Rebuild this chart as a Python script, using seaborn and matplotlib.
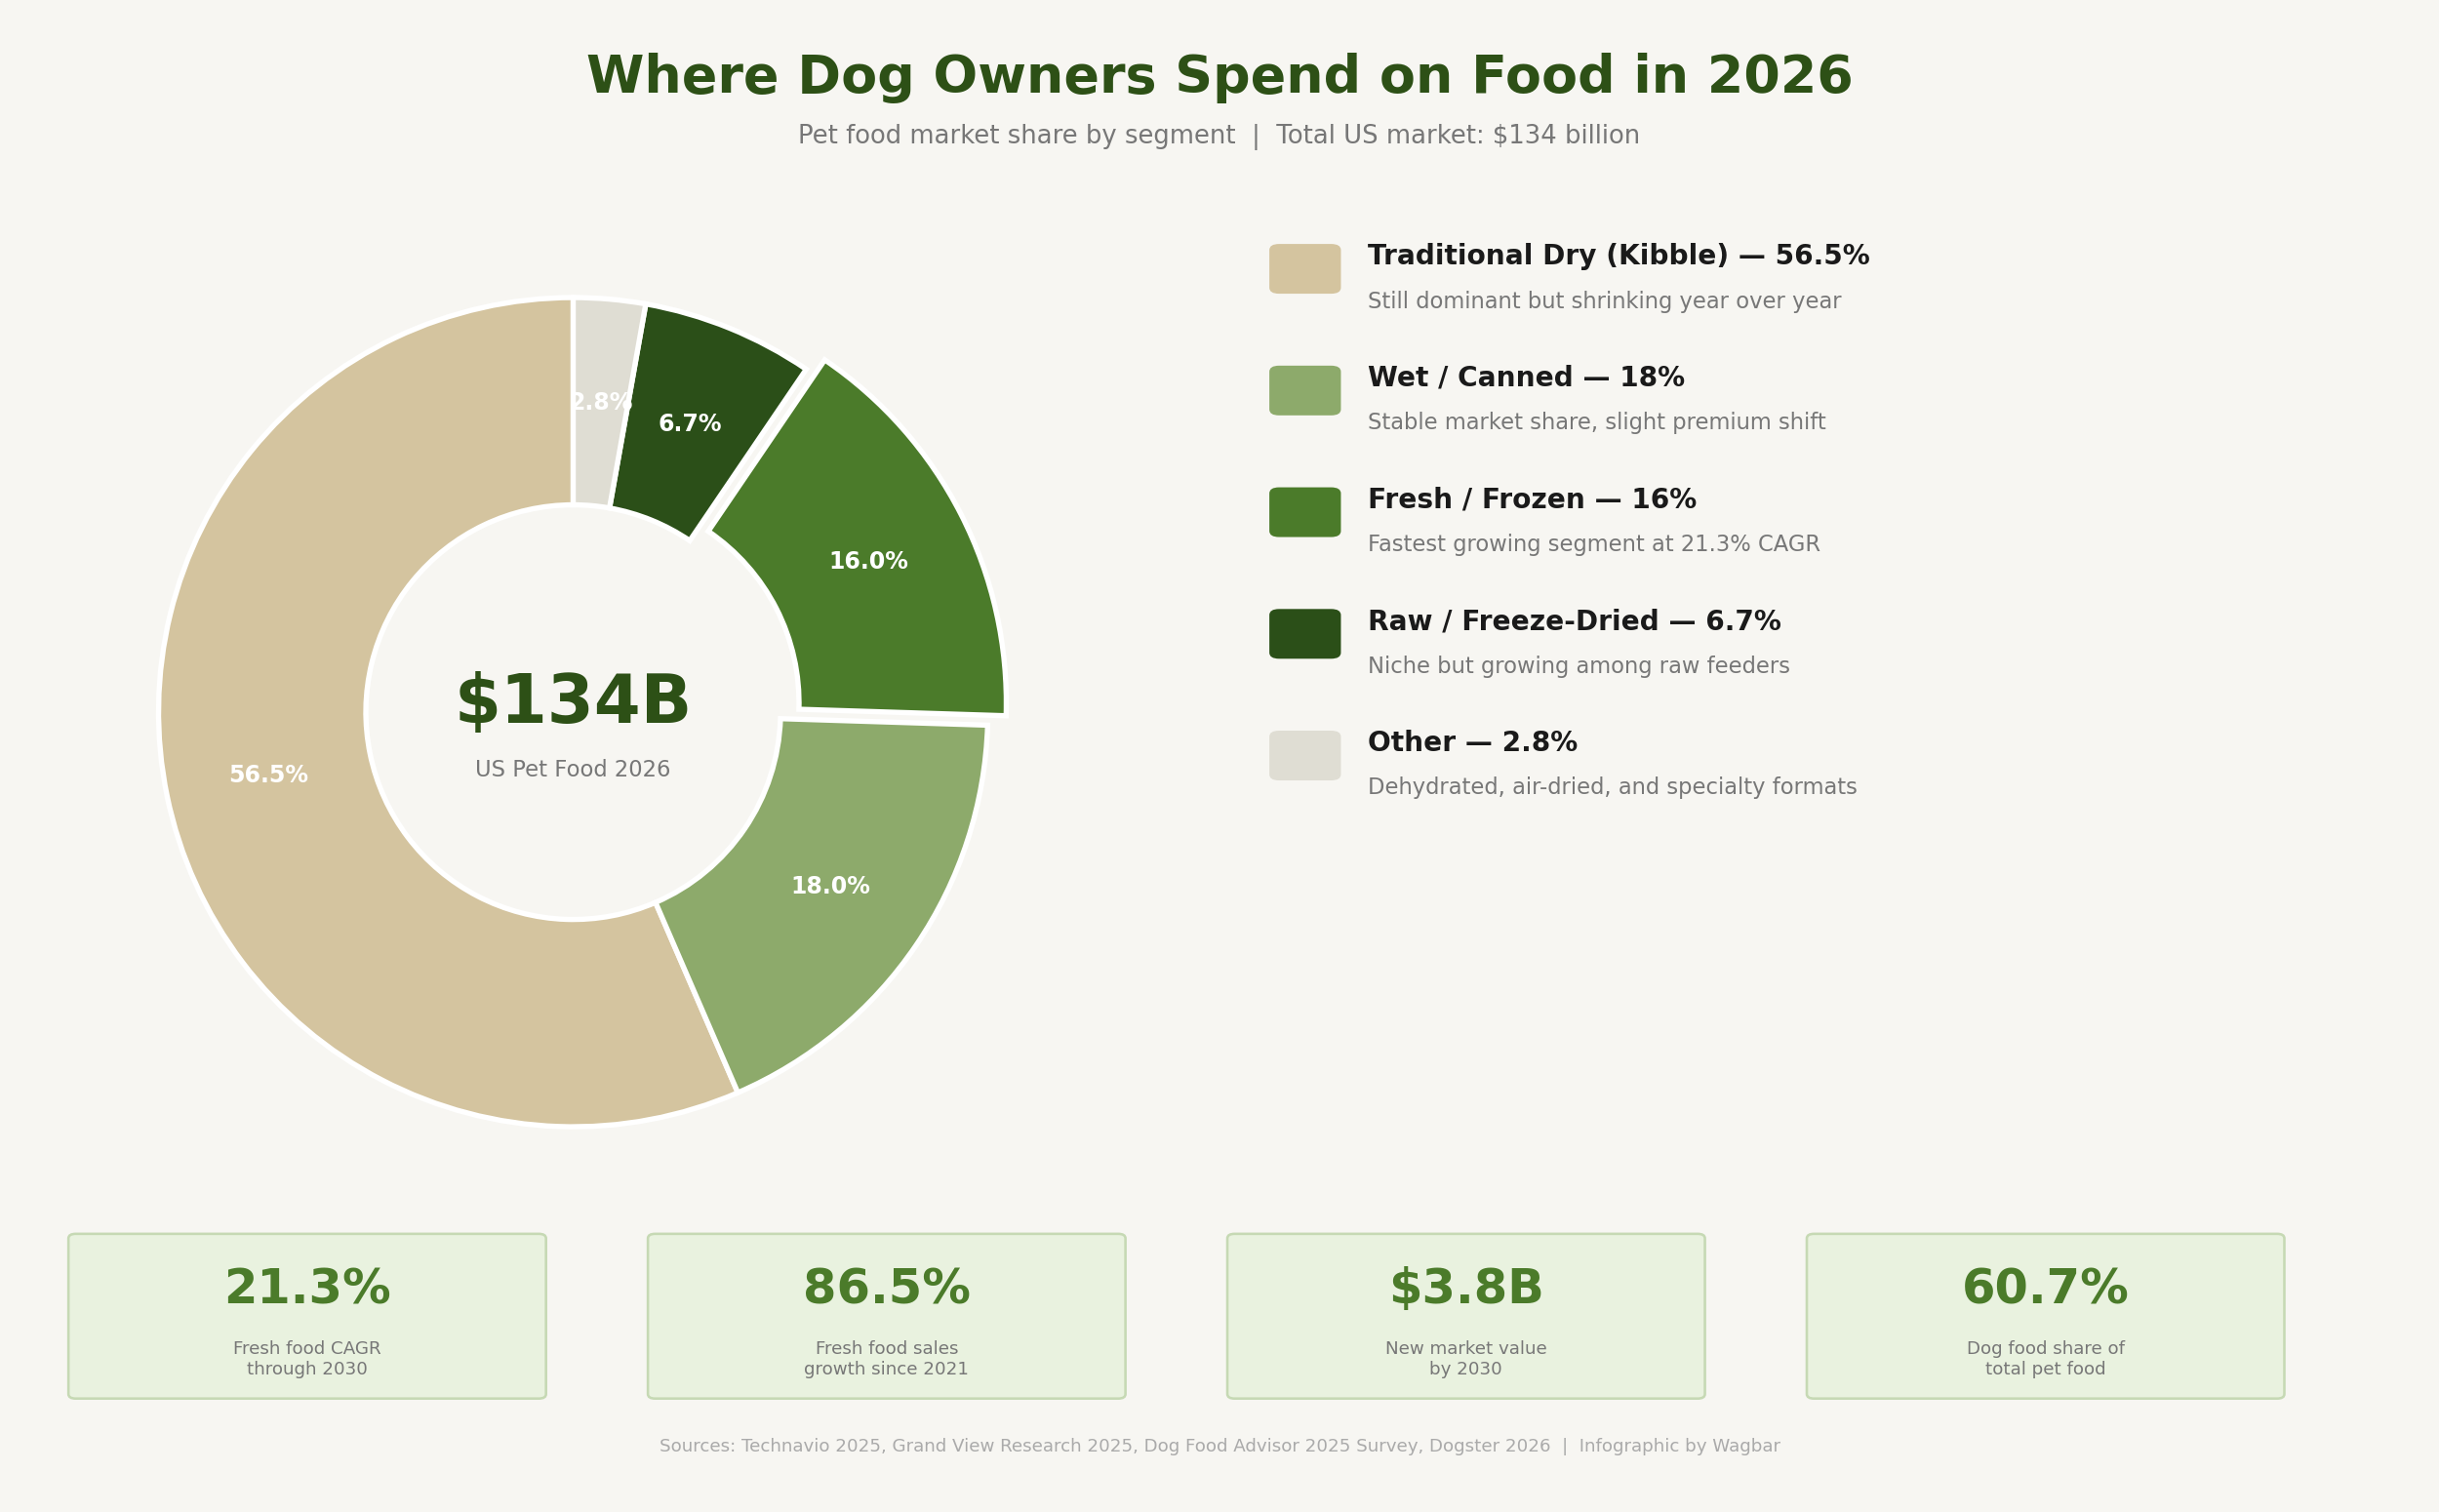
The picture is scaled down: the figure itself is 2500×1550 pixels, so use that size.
import matplotlib
matplotlib.use("Agg")
import matplotlib.pyplot as plt
import seaborn as sns
from matplotlib.patches import FancyBboxPatch

# data
segments = ["Traditional Dry (Kibble)", "Wet / Canned", "Fresh / Frozen", "Raw / Freeze-Dried", "Other"]
shares = [56.5, 18.0, 16.0, 6.7, 2.8]
legend_shares = ["56.5%", "18%", "16%", "6.7%", "2.8%"]
notes = ["Still dominant but shrinking year over year",
         "Stable market share, slight premium shift",
         "Fastest growing segment at 21.3% CAGR",
         "Niche but growing among raw feeders",
         "Dehydrated, air-dried, and specialty formats"]
colors = ["#d4c49f", "#8daa6b", "#4b7b2a", "#2b4f18", "#dfddd3"]
card_values = ["21.3%", "86.5%", "$3.8B", "60.7%"]
card_labels = ["Fresh food CAGR\nthrough 2030", "Fresh food sales\ngrowth since 2021",
               "New market value\nby 2030", "Dog food share of\ntotal pet food"]

sns.set_theme(style="white")
plt.rcParams['font.family'] = ['DejaVu Sans']
BG = "#f7f6f2"
W, H = 1568, 973
fig = plt.figure(figsize=(16.13, 10.0), dpi=155, facecolor=BG)

def fx(x): return x / W
def fy(y): return 1 - y / H

fig.text(0.5, fy(50), "Where Dog Owners Spend on Food in 2026", ha="center", va="center",
         fontsize=25, fontweight="bold", color="#2d5016")
fig.text(0.5, fy(88), "Pet food market share by segment  |  Total US market: $134 billion",
         ha="center", va="center", fontsize=12, color="#777777")

# donut
ax = fig.add_axes([0.048, 0.227, 0.374, 0.604])
ax.set_facecolor(BG)
explode = [0, 0, 0.05, 0, 0]
wedges, texts = ax.pie(shares, colors=colors, startangle=90, counterclock=True, explode=explode,
                       wedgeprops=dict(width=0.5, edgecolor="white", linewidth=2.5))
import numpy as np
for w, s, e in zip(wedges, shares, explode):
    ang = np.deg2rad((w.theta1 + w.theta2) / 2)
    r = 0.75 + e
    ax.text(r * np.cos(ang), r * np.sin(ang), f"{s:.1f}%", ha="center", va="center",
            fontsize=11, fontweight="bold", color="white")
ax.text(0, 0.02, "$134B", ha="center", va="center", fontsize=32, fontweight="bold", color="#2d5016")
ax.text(0, -0.14, "US Pet Food 2026", ha="center", va="center", fontsize=10.5, color="#777777")
ax.set_xlim(-1.1, 1.1); ax.set_ylim(-1.1, 1.1); ax.set_aspect("equal"); ax.axis("off")

# legend
for i, (seg, ls, note, c) in enumerate(zip(segments, legend_shares, notes, colors)):
    y = 173 + i * 78.3
    fig.patches.append(FancyBboxPatch((fx(816), fy(y + 16)), fx(46), 32 / H,
                                      boxstyle="round,pad=0,rounding_size=0.004",
                                      transform=fig.transFigure, facecolor=c, edgecolor="none"))
    fig.text(fx(879), fy(y - 8), f"{seg} — {ls}", ha="left", va="center", fontsize=13,
             fontweight="bold", color="#1a1a1a")
    fig.text(fx(879), fy(y + 21), note, ha="left", va="center", fontsize=10.5, color="#777777")

# cards
for i, (v, l) in enumerate(zip(card_values, card_labels)):
    x0 = 44 + i * 372.5
    fig.patches.append(FancyBboxPatch((fx(x0), fy(900)), fx(307), 106 / H,
                                      boxstyle="round,pad=0,rounding_size=0.003",
                                      transform=fig.transFigure, facecolor="#e9f2df",
                                      edgecolor="#c6d9b4", linewidth=1.2))
    cx = fx(x0 + 153.5)
    fig.text(cx, fy(830), v, ha="center", va="center", fontsize=23, fontweight="bold", color="#4b7b2a")
    fig.text(cx, fy(875), l, ha="center", va="center", fontsize=8.5, color="#777777", linespacing=1.2)

fig.text(0.5, fy(931), "Sources: Technavio 2025, Grand View Research 2025, Dog Food Advisor 2025 Survey, "
         "Dogster 2026  |  Infographic by Wagbar", ha="center", va="center", fontsize=8.5, color="#aaaaaa")

fig.savefig("out.png", dpi=155, facecolor=BG)
